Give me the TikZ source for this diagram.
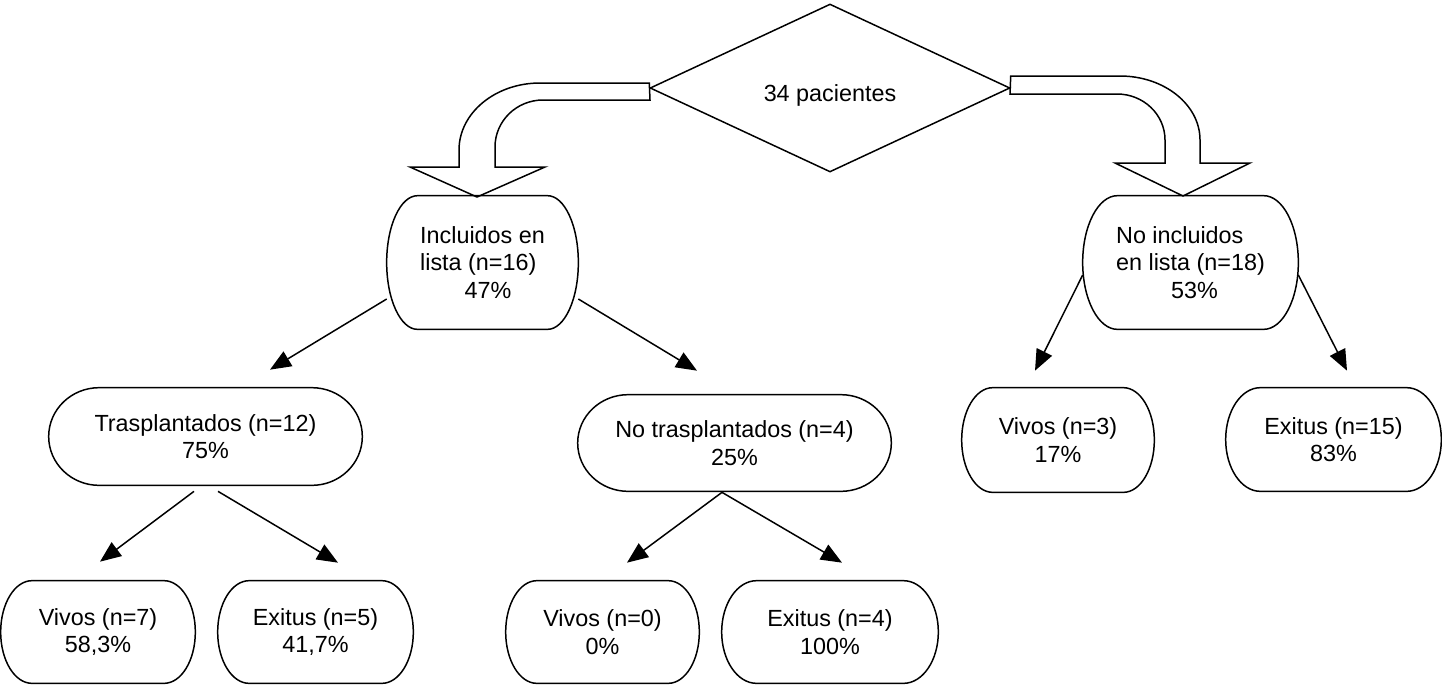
\documentclass[tikz,border=0pt]{standalone}
\usepackage{fontspec}
\setmainfont{Liberation Sans}
\usetikzlibrary{arrows.meta,shapes.geometric,calc,positioning}

\tikzset{
  termbox/.style={draw=none, inner sep=0pt, align=center},
  dia/.style={shape=diamond, draw, line width=0.85pt, inner sep=0pt,
    minimum width=7.2cm, minimum height=3.36cm},
  arr/.style={line width=0.85pt, -{Triangle[length=0.42cm,width=0.34cm]}},
  outl/.style={line width=0.85pt, line join=miter},
}

% rounded ends like a flowchart terminator
\newcommand{\termline}[1]{%
  \draw[outl] let \p1=(#1.north west), \p2=(#1.south east),
    \n1={0.161*(\x2-\x1)}, \n2={(\y1-\y2)/2} in
    (\x1+\n1,\y1) -- (\x2-\n1,\y1)
    arc[start angle=90, end angle=-90, x radius=\n1, y radius=\n2]
    -- (\x1+\n1,\y2)
    arc[start angle=270, end angle=90, x radius=\n1, y radius=\n2] -- cycle;}

\begin{document}
\begin{tikzpicture}[x=0.02cm, y=0.02cm, font=\fontsize{13.3}{15.6}\selectfont]
  \useasboundingbox (0,0) rectangle (1442,-684);

  \node[dia] (dia) at (830,-88) {\smash{\raisebox{-0.27cm}{34 pacientes}}};

  \node[termbox, align=left, minimum width=3.82cm, minimum height=2.66cm] (incl) at (482.5,-262.5)
    {Incluidos en\\lista (n=16)\\\hspace*{1.9em}47\%};
  \node[termbox, align=left, minimum width=4.3cm, minimum height=2.66cm] (noincl) at (1190.5,-262.5)
    {No incluidos\\en lista (n=18)\\\hspace*{2.35em}53\%};

  \node[termbox, minimum width=6.26cm, minimum height=1.94cm] (tras) at (205.5,-436.5)
    {Trasplantados (n=12)\\75\%};
  \node[termbox, minimum width=6.26cm, minimum height=1.92cm] (notras) at (734.5,-443)
    {No trasplantados (n=4)\\25\%};
  \node[termbox, minimum width=3.84cm, minimum height=2.08cm] (viv3) at (1058,-440)
    {Vivos (n=3)\\17\%};
  \node[termbox, minimum width=4.3cm, minimum height=2.06cm] (exi15) at (1333.5,-439.5)
    {Exitus (n=15)\\83\%};

  \node[termbox, minimum width=3.88cm, minimum height=2.04cm] (viv7) at (98,-632)
    {Vivos (n=7)\\58,3\%};
  \node[termbox, minimum width=3.9cm, minimum height=2.04cm] (exi5) at (315.5,-632)
    {Exitus (n=5)\\41,7\%};
  \node[termbox, minimum width=3.86cm, minimum height=2.04cm] (viv0) at (602.5,-632)
    {Vivos (n=0)\\0\%};
  \node[termbox, minimum width=4.32cm, minimum height=2.04cm] (exi4) at (830,-632)
    {Exitus (n=4)\\100\%};

  \foreach \b in {incl,noincl,tras,notras,viv3,exi15,viv7,exi5,viv0,exi4}
    \termline{\b};

  % bent block arrows out of the diamond
  \draw[outl] (dia.west) ++(0,5) -- (540,-83)
    arc[start angle=90, end angle=180, x radius=81, y radius=67]
    -- (459,-167) -- (410,-167) -- (477,-197) -- (545,-167) -- (495,-167) -- (495,-147)
    arc[start angle=180, end angle=90, x radius=48, y radius=47]
    -- (650,-100) -- cycle;
  \draw[outl] (dia.east) ++(0,12) -- (1120,-76)
    arc[start angle=90, end angle=0, x radius=80, y radius=64]
    -- (1200,-163) -- (1250,-163) -- (1183,-196) -- (1115,-163) -- (1165,-163) -- (1165,-140)
    arc[start angle=0, end angle=90, x radius=48, y radius=46]
    -- (1010,-94) -- cycle;

  \draw[arr] ($(incl.west)+(0,-36.5)$) -- ($(tras.north)+(64.5,18)$);
  \draw[arr] ($(incl.east)+(0,-36.5)$) -- ($(notras.north)+(-37.5,24)$);
  \draw[arr] ($(noincl.west)+(0,-12.5)$) -- ($(viv3.north)+(-23,17)$);
  \draw[arr] ($(noincl.east)+(0,-12.5)$) -- ($(exi15.north)+(13.5,17)$);
  \draw[arr] ($(tras.south)+(-11.5,-6)$) -- ($(viv7.north)+(2,19)$);
  \draw[arr] ($(tras.south)+(12.5,-6)$) -- ($(exi5.north)+(22.5,18)$);
  \draw[arr] ($(notras.south)+(-12.5,-1)$) -- ($(viv0.north)+(24.5,18)$);
  \draw[arr] ($(notras.south)+(-12.5,-1)$) -- ($(exi4.north)+(12,18)$);
\end{tikzpicture}
\end{document}
